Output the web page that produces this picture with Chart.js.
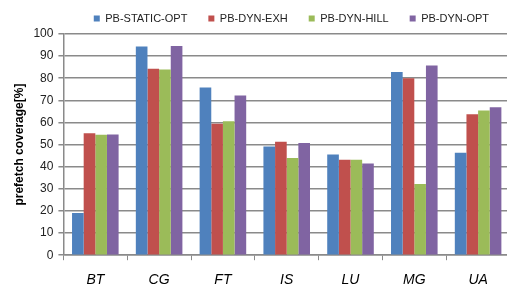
<!DOCTYPE html>
<html>
<head>
<meta charset="utf-8">
<script src="https://cdn.jsdelivr.net/npm/chart.js@4"></script>
<style>
  html, body { margin: 0; padding: 0; background: #fff; overflow: hidden; }
  #wrap { width: 510px; height: 289px; }
</style>
</head>
<body>
<div id="wrap"><canvas id="chart" width="510" height="289"></canvas></div>
<script>
// benchmarks on the x axis
const categories = ['BT', 'CG', 'FT', 'IS', 'LU', 'MG', 'UA'];

// prefetch coverage in percent
const staticOpt = [19.1, 94.3, 75.8, 49.1, 45.5, 82.8, 46.3];
const dynExh    = [55.1, 84.3, 59.4, 51.3, 43.1, 80.0, 63.7];
const dynHill   = [54.5, 83.9, 60.6, 43.9, 43.1, 32.2, 65.4];
const dynOpt    = [54.6, 94.6, 72.2, 50.7, 41.5, 85.8, 66.9];

const seriesNames = ['PB-STATIC-OPT', 'PB-DYN-EXH', 'PB-DYN-HILL', 'PB-DYN-OPT'];
const colors = ['#4F81BD', '#C0504D', '#9BBB59', '#8064A2'];

const FONT = "'Liberation Sans', Arial, sans-serif";
const GRID = '#8a8a8a';

const datasets = [staticOpt, dynExh, dynHill, dynOpt].map((data, i) => ({
  label: seriesNames[i],
  data,
  backgroundColor: colors[i],
  borderWidth: 0,
  barPercentage: 1,
  categoryPercentage: 0.73
}));

new Chart(document.getElementById('chart'), {
  type: 'bar',
  data: { labels: categories, datasets },
  options: {
    responsive: false,
    animation: false,
    layout: { padding: { left: 12, right: 0, top: -8, bottom: -12 } },
    plugins: {
      legend: {
        position: 'top',
        align: 'end',
        labels: {
          color: '#222',
          font: { family: FONT, size: 11 },
          boxWidth: 6,
          boxHeight: 6,
          padding: 21
        }
      },
      tooltip: { enabled: false }
    },
    scales: {
      x: {
        ticks: { color: '#000', font: { family: FONT, size: 14, style: 'italic' }, padding: 12 },
        grid: { display: true, drawOnChartArea: false, color: GRID, tickLength: 5, offset: true },
        border: { color: GRID, width: 1.5 }
      },
      y: {
        min: 0,
        max: 100,
        ticks: { stepSize: 10, color: '#222', font: { family: FONT, size: 12 }, padding: 5 },
        grid: { color: GRID, lineWidth: 1.5, tickLength: 5 },
        border: { color: GRID, width: 1.5 },
        title: {
          display: true,
          text: 'prefetch coverage[%]',
          color: '#000',
          font: { family: FONT, size: 12, weight: 'bold' },
          padding: { top: 0, bottom: 2 }
        }
      }
    }
  }
});
</script>
</body>
</html>
